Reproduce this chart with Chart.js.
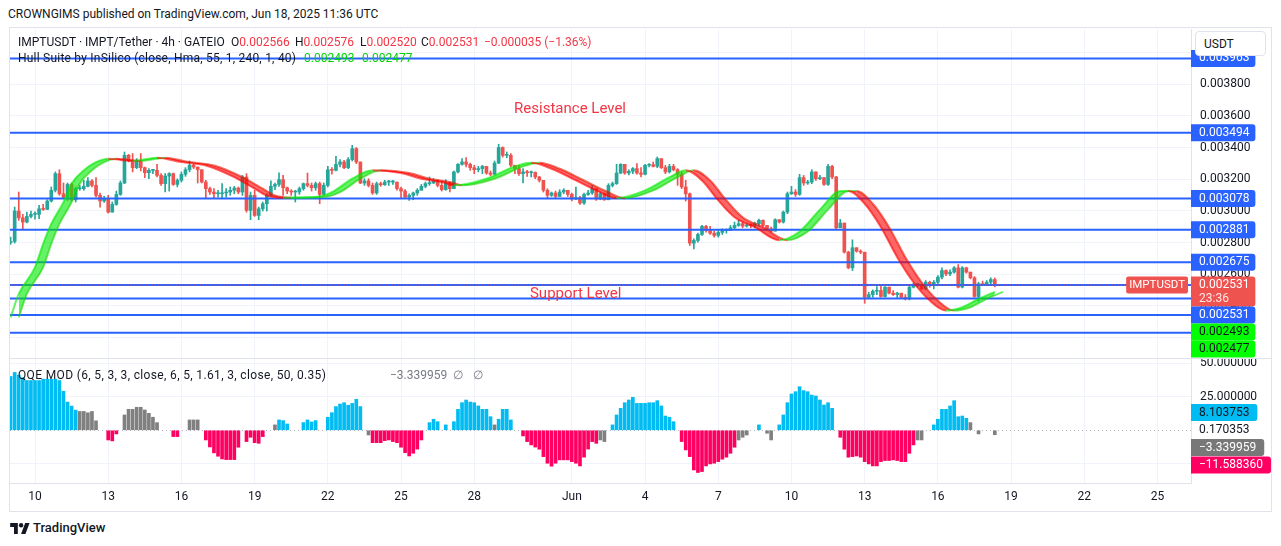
<!DOCTYPE html>
<html>
<head>
<meta charset="utf-8">
<script src="https://cdn.jsdelivr.net/npm/chart.js@4.4.1/dist/chart.umd.min.js"></script>
<style>
body { margin: 0; background: #fff; font-family: Roboto, sans-serif; color: #131722; }
#page { position: relative; width: 1281px; height: 546px; overflow: hidden; }
.t { position: absolute; white-space: nowrap; font-size: 12px; line-height: 14px; }
.red { color: #f23645; }
.grn { color: #00d400; }
.gry { color: #787b86; }
</style>
</head>
<body>
<div id="page">
  <div class="t" style="left:8px;top:7px;">CROWNGIMS published on TradingView.com, Jun 18, 2025 11:36 UTC</div>
  <div style="position:absolute;left:9px;top:27px;width:1261px;height:483px;border:1px solid #e0e3eb;"></div>
  <canvas id="main" width="1261" height="330" style="position:absolute;left:10px;top:29px;"></canvas>
  <canvas id="qqe" width="1261" height="152" style="position:absolute;left:10px;top:359px;"></canvas>
  <div style="position:absolute;left:9px;top:358px;width:1262px;height:1px;background:#e0e3eb;"></div>

  <!-- legends -->
  <div class="t" style="left:18px;top:35px;">IMPTUSDT · IMPT/Tether · 4h · GATEIO</div>
  <div class="t" style="left:231px;top:35px;">O<span class="red">0.002566</span></div>
  <div class="t" style="left:295px;top:35px;">H<span class="red">0.002576</span></div>
  <div class="t" style="left:360px;top:35px;">L<span class="red">0.002520</span></div>
  <div class="t" style="left:421px;top:35px;">C<span class="red">0.002531</span></div>
  <div class="t red" style="left:484px;top:35px;">−0.000035 (−1.36%)</div>
  <div class="t" style="left:18px;top:51px;letter-spacing:0.22px;">Hull Suite by InSilico (close, Hma, 55, 1, 240, 1, 40)</div>
  <div class="t grn" style="left:304px;top:51px;">0.002493</div>
  <div class="t grn" style="left:362px;top:51px;">0.002477</div>
  <div class="t" style="left:18px;top:368px;letter-spacing:0.35px;">QQE MOD (6, 5, 3, 3, close, 6, 5, 1.61, 3, close, 50, 0.35)</div>
  <div class="t gry" style="left:390px;top:368px;">−3.339959</div>
  <div class="t gry" style="left:453px;top:368px;">∅</div>
  <div class="t gry" style="left:473px;top:368px;">∅</div>

  <div style="position:absolute;left:1195px;top:31px;width:71px;height:25px;border:1px solid #e0e3eb;border-radius:4px;background:#fff;font-size:12px;line-height:25px;box-sizing:border-box;padding-left:8px;">USDT</div>

  <svg style="position:absolute;left:10px;top:522px;" width="20" height="12" viewBox="0 0 36 22">
    <path d="M14 22H7V9H0V2h14z" fill="#131722"/>
    <circle cx="20" cy="6" r="4" fill="#131722"/>
    <path d="M28 22h-8l7.5-20h8z" fill="#131722"/>
  </svg>
  <div class="t" style="left:33px;top:521px;font-size:13px;font-weight:500;">TradingView</div>
</div>

<script>
// 4h candles from 9 May 2025 00:00 UTC, prices in millionths of USDT
const firstOpen = 2800;
const closes = [
  2807, 2999, 2956, 2929, 2965, 2978, 2978, 3013, 3009, 3062,
  3130, 3235, 3108, 3087, 3167, 3070, 3140, 3140, 3155, 3189,
  3161, 3098, 3062, 3077, 2992, 3041, 3104, 3176, 3351, 3319,
  3273, 3315, 3273, 3241, 3256, 3256, 3224, 3172, 3220, 3235,
  3167, 3193, 3231, 3260, 3288, 3277, 3260, 3182, 3140, 3119,
  3108, 3108, 3113, 3119, 3130, 3144, 3119, 3214, 3003, 3098,
  2971,
  3013, 3045, 3098, 3155, 3167, 3197, 3146, 3125, 3119, 3119,
  3140, 3172, 3161, 3146, 3172, 3104, 3161, 3260, 3256, 3294,
  3309, 3273, 3324, 3393, 3309, 3176, 3189, 3161, 3113, 3172,
  3165, 3182, 3182, 3182, 3140, 3125, 3087, 3098, 3113, 3130,
  3155, 3172, 3176, 3189, 3161, 3134, 3176, 3140, 3246, 3294,
  3309, 3294, 3273, 3260, 3267, 3281, 3239, 3231, 3302, 3400,
  3351, 3351, 3288, 3267, 3235, 3246, 3241, 3243, 3214, 3193,
  3130, 3098, 3113, 3091, 3119, 3130, 3104, 3075, 3083, 3049,
  3104, 3113, 3140, 3075, 3108, 3070, 3161, 3172, 3239, 3294,
  3239, 3250, 3267, 3239, 3231, 3288, 3292, 3281, 3330, 3273,
  3246, 3281, 3260, 3231, 3151, 3108, 2796, 2813, 2851, 2902,
  2876, 2859, 2845, 2864, 2876, 2876, 2893, 2908, 2919, 2904,
  2910,
  2908, 2919, 2940, 2908, 2887, 2872, 2944, 2929, 2992, 3108,
  3119, 3104, 3210, 3176, 3182, 3246, 3203, 3210, 3167, 3281,
  3214, 2893, 2923, 2739, 2640, 2767, 2745, 2739, 2454, 2471,
  2492, 2497, 2459, 2518, 2480, 2471, 2480, 2454, 2444, 2518,
  2534, 2534, 2507, 2549, 2534, 2549, 2581, 2623, 2602, 2613,
  2640, 2518, 2640, 2613, 2577, 2459, 2539, 2534, 2549, 2566,
  2531
];
const highs = [
  2834, 3024, 3119, 2978, 2992, 2999, 2994, 3035, 3041, 3070,
  3151, 3246, 3260, 3176, 3176, 3176, 3151, 3161, 3193, 3210,
  3197, 3210, 3113, 3091, 3098, 3056, 3125, 3189, 3372, 3357,
  3362, 3330, 3362, 3277, 3267, 3262, 3294, 3235, 3235, 3241,
  3239, 3203, 3246, 3273, 3315, 3298, 3267, 3260, 3193, 3151,
  3140, 3130, 3172, 3140, 3151, 3155, 3151, 3224, 3235, 3119,
  3130,
  3024, 3056, 3108, 3189, 3176, 3241, 3224, 3151, 3134, 3130,
  3151, 3176, 3239, 3176, 3182, 3182, 3176, 3281, 3273, 3345,
  3324, 3319, 3336, 3414, 3400, 3302, 3203, 3203, 3176, 3182,
  3182, 3193, 3193, 3193, 3182, 3151, 3134, 3108, 3119, 3140,
  3167, 3182, 3214, 3203, 3197, 3189, 3197, 3182, 3252, 3298,
  3330, 3336, 3302, 3288, 3281, 3288, 3281, 3252, 3315, 3421,
  3404, 3372, 3362, 3281, 3288, 3267, 3256, 3252, 3246, 3218,
  3193, 3140, 3119, 3125, 3134, 3140, 3130, 3113, 3151, 3091,
  3113, 3130, 3161, 3140, 3119, 3113, 3172, 3182, 3294, 3298,
  3294, 3260, 3273, 3298, 3273, 3294, 3298, 3309, 3340, 3330,
  3288, 3294, 3294, 3267, 3246, 3193, 3113, 2824, 2859, 2908,
  2908, 2902, 2872, 2881, 2887, 2887, 2908, 2929, 2940, 2929,
  2919,
  2919, 2929, 2948, 2944, 2908, 2897, 2950, 2944, 2999, 3119,
  3155, 3134, 3231, 3224, 3193, 3260, 3246, 3224, 3210, 3294,
  3288, 3218, 2946, 2923, 2745, 2817, 2767, 2754, 2739, 2486,
  2501, 2522, 2528, 2522, 2513, 2497, 2486, 2480, 2471, 2528,
  2543, 2543, 2539, 2560, 2556, 2560, 2591, 2640, 2627, 2627,
  2648, 2661, 2648, 2644, 2613, 2585, 2549, 2556, 2560, 2577,
  2576
];
const lows = [
  2788, 2796, 2940, 2881, 2923, 2956, 2948, 2950, 3003, 3013,
  3056, 3119, 3098, 3077, 3066, 3062, 3056, 3130, 3130, 3151,
  3151, 3087, 3024, 3054, 2986, 2992, 3035, 3098, 3172, 3309,
  3246, 3267, 3252, 3210, 3203, 3235, 3214, 3161, 3119, 3125,
  3161, 3151, 3182, 3218, 3246, 3267, 3176, 3176, 3083, 3104,
  3077, 3087, 3077, 3087, 3098, 3108, 3108, 3098, 2992, 2944,
  2965,
  2944, 2999, 2999, 3091, 3134, 3155, 3098, 3108, 3098, 3056,
  3104, 3130, 3151, 3125, 3130, 3045, 3098, 3151, 3231, 3252,
  3277, 3267, 3267, 3315, 3298, 3172, 3161, 3151, 3104, 3104,
  3155, 3161, 3161, 3167, 3130, 3083, 3083, 3066, 3070, 3098,
  3130, 3146, 3161, 3172, 3151, 3125, 3130, 3119, 3151, 3239,
  3288, 3277, 3256, 3235, 3246, 3235, 3231, 3222, 3227, 3298,
  3340, 3336, 3277, 3235, 3224, 3176, 3218, 3214, 3203, 3182,
  3119, 3083, 3091, 3083, 3091, 3108, 3091, 3062, 3070, 3041,
  3041, 3098, 3104, 3066, 3070, 3066, 3070, 3151, 3167, 3235,
  3231, 3227, 3235, 3231, 3214, 3227, 3277, 3277, 3273, 3267,
  3235, 3239, 3252, 3161, 3140, 3062, 2781, 2760, 2802, 2845,
  2866, 2851, 2834, 2834, 2851, 2859, 2876, 2887, 2902, 2893,
  2897,
  2893, 2893, 2902, 2902, 2876, 2866, 2872, 2923, 2923, 2982,
  3104, 3091, 3098, 3161, 3167, 3172, 3193, 3197, 3161, 3161,
  3203, 2881, 2902, 2733, 2634, 2623, 2739, 2729, 2416, 2450,
  2454, 2471, 2454, 2454, 2475, 2465, 2450, 2450, 2437, 2437,
  2513, 2518, 2501, 2501, 2518, 2507, 2539, 2570, 2591, 2591,
  2606, 2513, 2513, 2606, 2570, 2454, 2429, 2528, 2534, 2539,
  2520
];

// Hull Suite band, read at some bars (bar index -> price)
const hullIdx = [0, 2, 6, 8, 10, 13, 15, 18, 21, 24, 27, 30, 36, 42, 48, 55, 60, 63, 67, 75,
  79, 84, 89, 96, 101, 106, 109, 117, 124, 128, 133, 139, 144, 149, 156, 162, 166, 170, 174, 178,
  183, 189, 194, 199, 204, 206, 210, 214, 218, 222, 226, 230, 234, 238, 242];
const hullVal = [2327, 2475, 2644, 2792, 2918, 3055, 3172, 3256, 3308, 3330, 3322, 3316, 3336, 3308, 3287, 3213, 3140, 3097, 3083, 3087,
  3118, 3203, 3256, 3239, 3203, 3182, 3161, 3203, 3281, 3304, 3266, 3192, 3129, 3080, 3129, 3213, 3256, 3192, 3066, 2960,
  2897, 2815, 2870, 3008, 3125, 3125, 3045, 2897, 2707, 2549, 2433, 2370, 2391, 2444, 2488];
const hullLast = [2493, 2477];

// horizontal levels drawn on the chart
const levels = [3963, 3494, 3078, 2881, 2675, 2531, 2447, 2342, 2230];
const labelledLevels = [3963, 3494, 3078, 2881, 2675, 2531];
const lastPrice = 2531;
const notes = [
  { text: 'Resistance Level', idx: 123.8, price: 3644 },
  { text: 'Support Level', idx: 127.7, price: 2475 }
];

// QQE MOD histogram, one value per bar (null = no bar)
const qqe = [
  40, 43, 41, 39, 37, 37, 37, 37, 38, 38,
  38, 38, 37, 29, 21, 18, 15, 14, 14, 13,
  14, 7, null, null, -7.2, -7.9, -2.7, null, 11.4, 15.6,
  15.6, 17.1, 17.1, 15.1, 12.6, 9.7, 5.7, null, null, null,
  -4.7, -4.7, null, null, 7.7, 7.7, 7.7, null, -7.2, -12.4,
  -16.8, -19.3, -21.3, -21.8, -21.8, -21.8, -12.6, null, -8.4, -5.2,
  -9.2, -9.7, -4.7, null, null, 4.0, 7.7, 7.2, 4.7, null,
  null, null, 5.7, 7.7, 6.2, 7.2, null, null, 9.7, 13.1,
  17.6, 19.5, 20.5, 18.6, 20.0, 23.0, 17.6, null, -3.5, -9.2,
  -9.2, -9.2, -7.7, -7.2, -8.4, -9.2, -12.6, -16.6, -19.1, -17.1,
  -14.0, -7.2, null, 5.7, 8.2, 6.4, null, 4.0, null, 6.4,
  15.6, 20.5, 22.5, 21.0, 20.5, 18.1, 15.6, 15.6, 10.1, 4.0,
  8.2, 15.6, 15.6, 7.7, null, null, -4.2, -8.4, -10.9, -12.5,
  -14.1, -19.6, -24.5, -26.7, -24.5, -22.0, -22.0, -22.0, -23.3, -24.5,
  -26.5, -20.0, -14.0, -8.4, -9.7, -7.2, -8.4, null, 4.0, 11.4,
  16.3, 20.5, 22.5, 24.5, 20.0, 20.0, 20.0, 20.5, 20.5, 22.0,
  18.1, 10.6, 9.7, 6.4, null, -8.4, -14.6, -19.6, -29.5, -31.4,
  -30.7, -26.5, -25.0, -24.5, -23.3, -21.5, -20.0, -17.1, -12.6, -7.2,
  -5.2, -3.5, null, null, 4.0, null, -2.2, -7.2, null, 4.0,
  11.4, 20.5, 27.0, 28.7, 32.4, 29.5, 28.7, 26.2, 25.5, 22.5,
  18.8, 20.5, 16.3, null, -5.2, -14.1, -20.0, -19.6, -19.1, -20.0,
  -23.3, -25.0, -26.5, -26.5, -23.3, -22.5, -22.5, -22.0, -22.5, -23.3,
  -23.3, -17.1, -10.9, -7.2, -7.2, null, null, 4.0, 8.2, 15.6,
  15.6, 18.1, 22.0, 10.1, 10.6, 8.9, 5.7, null, -2.7, null,
  null, null, -3.3
];
const qqeGray = [17, 18, 19, 20, 21, 28, 29, 30, 31, 32, 33, 34, 35, 36, 44, 45, 46, 65, 88, 119,
  145, 146, 179, 180, 181, 186, 187, 223, 224, 236, 238, 242];
const qqeLine = 8.103753, qqeZero = 0.170353, qqeHist = -3.339959, qqeLow = -11.588360;

// time and price axes
const dayTicks = [6, 24, 42, 60, 78, 96, 114, 138, 156, 174, 192, 210, 228, 246, 264, 282];
const dayLabels = ['10', '13', '16', '19', '22', '25', '28', 'Jun', '4', '7', '10', '13', '16', '19', '22', '25'];
const priceTicks = [2200, 2400, 2600, 2800, 3000, 3200, 3400, 3600, 3800, 4000];
const qqeTicks = [-25, 0, 25, 50];

const UP = '#26a69a', DN = '#ef5350', LINE = '#2962ff';
const HULL_UP = 'rgba(0, 234, 0, 0.6)', HULL_DN = 'rgba(255, 0, 0, 0.6)';
const Q_BLUE = '#00bcf2', Q_RED = '#ff0062', Q_GRAY = '#808080';
const GRID = '#f0f3fa';

Chart.defaults.font.family = 'Roboto';
Chart.defaults.font.size = 12;
Chart.defaults.color = '#131722';
Chart.defaults.animation = false;

const X_MIN = -0.15, X_MAX = 290.24;
const px = v => (v / 1e6).toFixed(6);
const num = v => (v < 0 ? '\u2212' : '') + Math.abs(v).toFixed(6);

const opens = closes.map((c, i) => i === 0 ? firstOpen : closes[i - 1]);
const candleCol = closes.map((c, i) => c >= opens[i] ? UP : DN);
const bodies = closes.map((c, i) => ({ x: i, y: [opens[i], c] }));
const wicks = closes.map((c, i) => ({ x: i, y: [Math.min(lows[i], opens[i], c), Math.max(highs[i], opens[i], c)] }));

function hullSeg(ctx) {
  return ctx.p1.parsed.y >= ctx.p0.parsed.y ? HULL_UP : HULL_DN;
}

function box(ctx, x, top, w, h, bg) {
  ctx.fillStyle = bg;
  ctx.beginPath();
  ctx.roundRect(x, top, w, h, [0, 3, 3, 0]);
  ctx.fill();
}

// no label padding, so the plot fills the whole canvas height
function fixY(s) { s.width = 80; s.paddingTop = 0; s.paddingBottom = 0; }

// labels on the price axis, pushed down when they overlap
const mainTags = {
  id: 'mainTags',
  afterDraw(chart) {
    const { ctx, chartArea: a, scales: { x, y } } = chart;
    ctx.save();
    ctx.textBaseline = 'middle';
    ctx.textAlign = 'left';
    ctx.font = '15px Roboto';
    ctx.fillStyle = '#f23645';
    notes.forEach(n => ctx.fillText(n.text, x.getPixelForValue(n.idx), y.getPixelForValue(n.price)));

    const tags = labelledLevels.map(v => ({ v, bg: LINE, fg: '#ffffff', lines: [px(v)], pri: 1 }));
    tags.push({ v: lastPrice, bg: DN, fg: '#ffffff', lines: [px(lastPrice), '23:36'], pri: 0, name: 'IMPTUSDT' });
    hullLast.forEach(v => tags.push({ v, bg: '#00ff00', fg: '#131722', lines: [px(v)], pri: 2 }));
    tags.sort((p, q) => q.v - p.v || p.pri - q.pri);

    ctx.font = '12px Roboto';
    let bottom = -1e9;
    tags.forEach(t => {
      const h = t.lines.length > 1 ? 30 : 17;
      const top = Math.max(y.getPixelForValue(t.v) - 8.5, bottom);
      bottom = top + h;
      const w = ctx.measureText(t.lines[0]).width + 14;
      box(ctx, a.right, top, w, h, t.bg);
      t.lines.forEach((s, k) => {
        ctx.fillStyle = k ? 'rgba(255,255,255,0.85)' : t.fg;
        ctx.fillText(s, a.right + 8, top + 8.5 + k * 14);
      });
      if (t.name) {
        ctx.font = '11.5px Roboto';
        const w2 = ctx.measureText(t.name).width + 6;
        ctx.fillStyle = t.bg;
        ctx.beginPath();
        ctx.roundRect(a.right - 3 - w2, top, w2, 17, 2);
        ctx.fill();
        ctx.fillStyle = '#ffffff';
        ctx.fillText(t.name, a.right - 3 - w2 + 3, top + 8.5);
        ctx.font = '12px Roboto';
      }
    });
    ctx.restore();
  }
};

const qqeTagsPlugin = {
  id: 'qqeTags',
  beforeDatasetsDraw(chart) {
    const { ctx, chartArea: a, scales: { y } } = chart;
    const y0 = Math.round(y.getPixelForValue(0)) + 0.5;
    ctx.save();
    ctx.strokeStyle = '#b2b5be';
    ctx.setLineDash([1, 3]);
    ctx.beginPath();
    ctx.moveTo(a.left, y0);
    ctx.lineTo(a.right, y0);
    ctx.stroke();
    ctx.restore();
  },
  afterDraw(chart) {
    const { ctx, chartArea: a, scales: { y } } = chart;
    const yz = y.getPixelForValue(qqeZero);
    const items = [
      { yc: yz - 17.5, v: qqeLine, bg: Q_BLUE, fg: '#131722' },
      { yc: yz, v: qqeZero, bg: null, fg: '#131722' },
      { yc: yz + 17.5, v: qqeHist, bg: '#787878', fg: '#ffffff' },
      { yc: yz + 35, v: qqeLow, bg: Q_RED, fg: '#ffffff' }
    ];
    ctx.save();
    ctx.font = '12px Roboto';
    ctx.textBaseline = 'middle';
    ctx.textAlign = 'left';
    items.forEach(it => {
      const s = num(it.v);
      if (it.bg) box(ctx, a.right, it.yc - 8.5, ctx.measureText(s).width + 16, 17, it.bg);
      ctx.fillStyle = it.fg;
      ctx.fillText(s, a.right + 8, it.yc);
    });
    ctx.restore();
  }
};

const levelSets = levels.map(v => ({
  type: 'line',
  data: [{ x: X_MIN - 5, y: v }, { x: X_MAX + 5, y: v }],
  borderColor: LINE,
  borderWidth: 2,
  pointRadius: 0,
  order: 1
}));

new Chart(document.getElementById('main'), {
  type: 'bar',
  data: {
    datasets: [
      {
        type: 'line',
        data: hullIdx.map((x, k) => ({ x: x, y: hullVal[k] })),
        borderWidth: 2,
        pointRadius: 0,
        cubicInterpolationMode: 'monotone',
        fill: { target: '+1', above: HULL_UP, below: HULL_DN },
        segment: { borderColor: hullSeg },
        order: 0
      },
      {
        type: 'line',
        data: hullIdx.map((x, k) => ({ x: x + 2, y: hullVal[k] })),
        borderWidth: 2,
        pointRadius: 0,
        cubicInterpolationMode: 'monotone',
        fill: false,
        segment: { borderColor: hullSeg },
        order: 0
      },
      {
        type: 'line',
        data: [{ x: X_MIN - 5, y: lastPrice }, { x: X_MAX + 5, y: lastPrice }],
        borderColor: DN,
        borderWidth: 1,
        borderDash: [1, 2],
        pointRadius: 0,
        order: 0.5
      },
      ...levelSets,
      {
        type: 'bar',
        data: bodies,
        backgroundColor: candleCol,
        barThickness: 3,
        minBarLength: 1,
        grouped: false,
        order: 2
      },
      {
        type: 'bar',
        data: wicks,
        backgroundColor: candleCol,
        barThickness: 1,
        grouped: false,
        order: 3
      }
    ]
  },
  options: {
    responsive: false,
    layout: { padding: 0 },
    plugins: { legend: { display: false }, tooltip: { enabled: false } },
    scales: {
      x: {
        type: 'linear',
        min: X_MIN,
        max: X_MAX,
        offset: false,
        grid: { color: GRID, drawTicks: false, offset: false },
        border: { display: false },
        ticks: { display: false },
        afterBuildTicks: s => { s.ticks = dayTicks.map(v => ({ value: v })); },
        afterFit: s => { s.height = 0; s.paddingLeft = 0; s.paddingRight = 0; }
      },
      y: {
        position: 'right',
        min: 2064,
        max: 4149,
        beginAtZero: false,
        grid: { color: GRID, drawTicks: false },
        border: { display: true, color: '#e0e3eb' },
        ticks: { padding: 9, callback: v => px(v) },
        afterBuildTicks: s => { s.ticks = priceTicks.map(v => ({ value: v })); },
        afterFit: fixY
      }
    }
  },
  plugins: [mainTags]
});

new Chart(document.getElementById('qqe'), {
  type: 'bar',
  data: {
    datasets: [{
      data: qqe.map((v, i) => ({ x: i, y: v })),
      backgroundColor: qqe.map((v, i) => qqeGray.includes(i) ? Q_GRAY : (v > 0 ? Q_BLUE : Q_RED)),
      barThickness: 3,
      grouped: false
    }]
  },
  options: {
    responsive: false,
    layout: { padding: 0 },
    plugins: { legend: { display: false }, tooltip: { enabled: false } },
    scales: {
      x: {
        type: 'linear',
        min: X_MIN,
        max: X_MAX,
        offset: false,
        grid: { color: GRID, drawTicks: false, offset: false },
        border: { display: true, color: '#e0e3eb' },
        ticks: {
          padding: 7,
          autoSkip: false,
          maxRotation: 0,
          callback: (v, i) => dayLabels[i]
        },
        afterBuildTicks: s => { s.ticks = dayTicks.map(v => ({ value: v })); },
        afterFit: s => { s.height = 28; s.paddingLeft = 0; s.paddingRight = 0; }
      },
      y: {
        position: 'right',
        min: -39.2,
        max: 53,
        beginAtZero: false,
        grid: { color: c => c.tick && c.tick.value === 0 ? 'rgba(0,0,0,0)' : GRID, drawTicks: false },
        border: { display: true, color: '#e0e3eb' },
        ticks: { padding: 9, callback: v => (v === 25 || v === 50) ? v.toFixed(6) : '' },
        afterBuildTicks: s => { s.ticks = qqeTicks.map(v => ({ value: v })); },
        afterFit: fixY
      }
    }
  },
  plugins: [qqeTagsPlugin]
});
</script>
</body>
</html>
